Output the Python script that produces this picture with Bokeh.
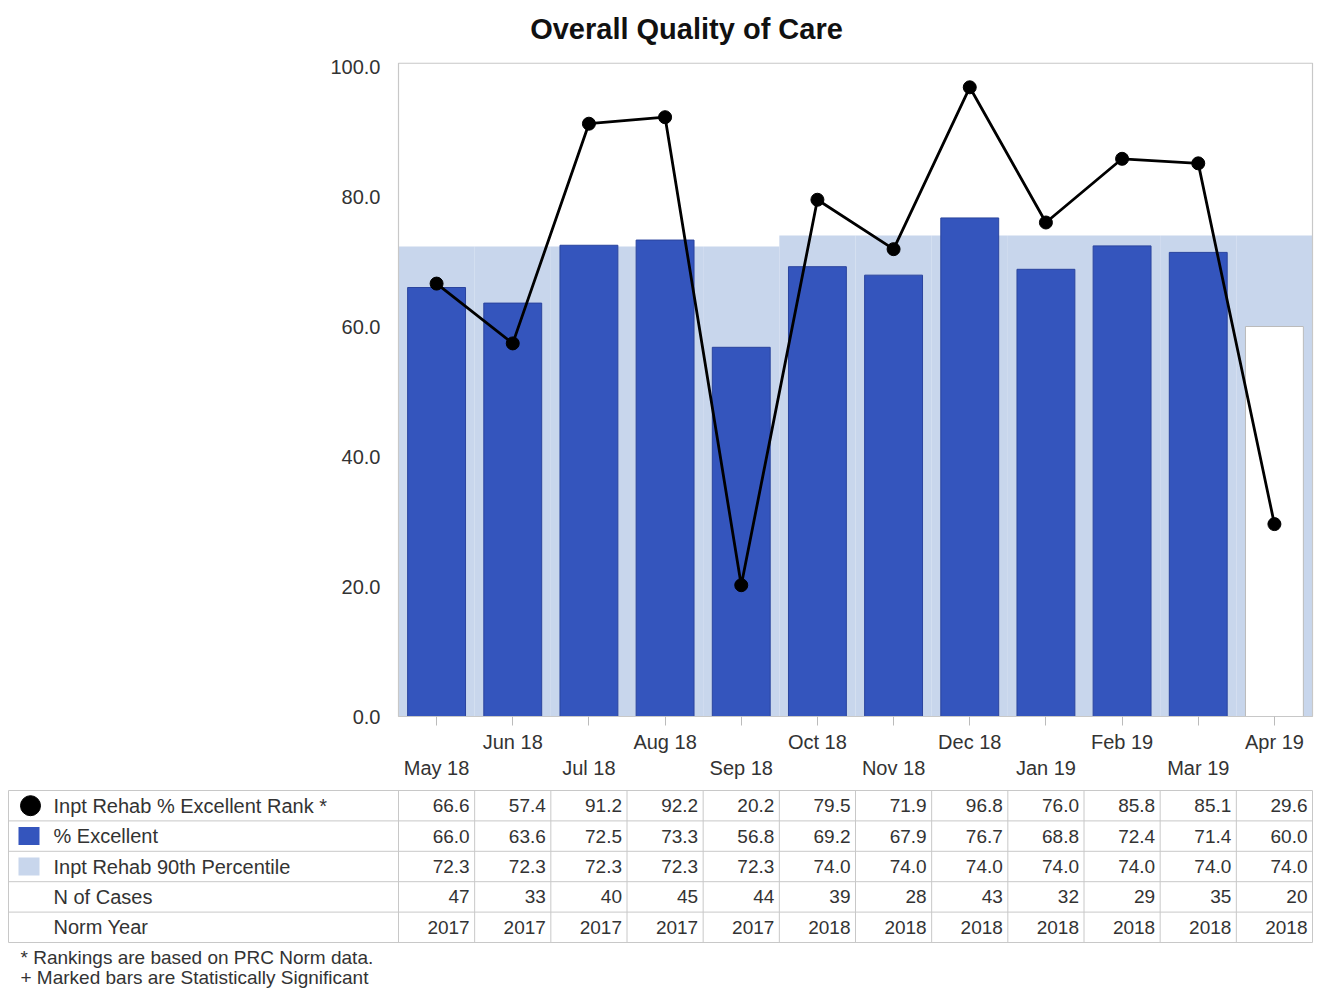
from bokeh.plotting import figure
from bokeh.models import Range1d, FixedTicker, LinearAxis, NumeralTickFormatter
from bokeh.core.properties import value
from bokeh.embed import file_html
from bokeh.resources import INLINE

# ---------------- data ----------------
months = ["May 18", "Jun 18", "Jul 18", "Aug 18", "Sep 18", "Oct 18",
          "Nov 18", "Dec 18", "Jan 19", "Feb 19", "Mar 19", "Apr 19"]
rank = [66.6, 57.4, 91.2, 92.2, 20.2, 79.5, 71.9, 96.8, 76.0, 85.8, 85.1, 29.6]
pct_excellent = [66.0, 63.6, 72.5, 73.3, 56.8, 69.2, 67.9, 76.7, 68.8, 72.4, 71.4, 60.0]
p90 = [72.3, 72.3, 72.3, 72.3, 72.3, 74.0, 74.0, 74.0, 74.0, 74.0, 74.0, 74.0]
n_cases = [47, 33, 40, 45, 44, 39, 28, 43, 32, 29, 35, 20]
norm_year = [2017, 2017, 2017, 2017, 2017, 2018, 2018, 2018, 2018, 2018, 2018, 2018]
row_labels = ["Inpt Rehab % Excellent Rank *", "% Excellent",
              "Inpt Rehab 90th Percentile", "N of Cases", "Norm Year"]
footnotes = ["* Rankings are based on PRC Norm data.",
             "+ Marked bars are Statistically Significant"]
title_text = "Overall Quality of Care"
y_ticks = [0, 20, 40, 60, 80, 100]
y_max = 100.5

# ---------------- style / layout ----------------
FONT = "Liberation Sans"
TXT = "#333333"
GRID = "#c8c8c8"
BAND = "#c8d6ec"
BAR = "#3455bd"
BAR_EDGE = "#2a449e"

idx = list(range(len(months)))
bar_fill = [BAR] * (len(months) - 1) + ["white"]
bar_line = [BAR_EDGE] * (len(months) - 1) + ["#bbbbbb"]

W, H = 1320, 990
FRAME_L, FRAME_R = 398, 1312        # chart area, page px
Y0_PX, UNIT_PX = 716, 6.5           # page y of value 0, px per value unit
ppu = (FRAME_R - FRAME_L) / len(months)


def px2x(px):
    # page x pixel -> column units (column i centred at i)
    return -0.5 + (px - FRAME_L) / ppu


p = figure(width=W, height=H,
           x_range=Range1d(px2x(0), px2x(W)),
           y_range=Range1d((Y0_PX - H) / UNIT_PX, Y0_PX / UNIT_PX),
           output_backend="svg", toolbar_location=None, min_border=0,
           x_axis_location=None, y_axis_location=None)
p.extra_y_ranges = {"px": Range1d(start=H, end=0)}
p.grid.visible = False
p.outline_line_color = None

# ---------------- chart ----------------
p.vbar(x=idx, top=p90, bottom=0, width=1.0, fill_color=BAND, line_color=None)
p.vbar(x=idx, top=pct_excellent, bottom=0, width=0.76, fill_color=bar_fill,
       line_color=bar_line, line_width=1)
p.quad(left=[-0.5], right=[len(months) - 0.5], bottom=[0], top=[y_max],
       fill_color=None, line_color=GRID, line_width=1.2)
p.line(idx, rank, line_color="black", line_width=2.8)
p.scatter(idx, rank, size=13, fill_color="black", line_color="black")

yax = LinearAxis(fixed_location=-0.5, ticker=FixedTicker(ticks=y_ticks),
                 formatter=NumeralTickFormatter(format="0.0"),
                 major_tick_out=0, major_tick_in=0, minor_tick_line_color=None,
                 axis_line_color=None, major_label_standoff=18,
                 major_label_text_font=FONT, major_label_text_font_size="20px",
                 major_label_text_color=TXT)
p.add_layout(yax, "left")

xax1 = LinearAxis(fixed_location=0, ticker=FixedTicker(ticks=idx),
                  major_label_overrides={i: (m if i % 2 == 1 else "") for i, m in enumerate(months)},
                  major_tick_out=9, major_tick_in=0, major_tick_line_color="#bbbbbb",
                  minor_tick_line_color=None, axis_line_color=None,
                  major_label_standoff=5, major_label_text_font=FONT,
                  major_label_text_font_size="20px", major_label_text_color=TXT)
p.add_layout(xax1, "below")

xax2 = LinearAxis(fixed_location=0, ticker=FixedTicker(ticks=idx),
                  major_label_overrides={i: (m if i % 2 == 0 else "") for i, m in enumerate(months)},
                  major_tick_out=0, major_tick_in=0, major_tick_line_color=None,
                  minor_tick_line_color=None, axis_line_color=None,
                  major_label_standoff=40, major_label_text_font=FONT,
                  major_label_text_font_size="20px", major_label_text_color=TXT)
p.add_layout(xax2, "below")

# title
p.text(x=[px2x(686)], y=[28], text=[title_text], y_range_name="px",
       text_font=value(FONT), text_font_size="29px", text_font_style="bold",
       text_color="#111111", text_align="center", text_baseline="middle")

# ---------------- table ----------------
ROW_TOP = 790
ROW_H = 30.4
n_rows = len(row_labels)
edges_y = [ROW_TOP + k * ROW_H for k in range(n_rows + 1)]
xl, xr = px2x(8), len(months) - 0.5
p.segment(x0=[xl] * len(edges_y), y0=edges_y, x1=[xr] * len(edges_y), y1=edges_y,
          line_color=GRID, line_width=1, y_range_name="px")
vx = [xl] + [i - 0.5 for i in range(len(months) + 1)]
p.segment(x0=vx, y0=[edges_y[0]] * len(vx), x1=vx, y1=[edges_y[-1]] * len(vx),
          line_color=GRID, line_width=1, y_range_name="px")

centers = [ROW_TOP + (k + 0.5) * ROW_H for k in range(n_rows)]
p.text(x=[px2x(53)] * n_rows, y=centers, text=row_labels, y_range_name="px",
       text_font=value(FONT), text_font_size="20px", text_color=TXT,
       text_baseline="middle", text_align="left")

rows_vals = [
    [f"{v:.1f}" for v in rank],
    [f"{v:.1f}" for v in pct_excellent],
    [f"{v:.1f}" for v in p90],
    [str(v) for v in n_cases],
    [str(v) for v in norm_year],
]
for k, vals in enumerate(rows_vals):
    p.text(x=[i + 0.5 for i in idx], y=[centers[k]] * len(idx), text=vals,
           y_range_name="px", x_offset=-5, text_font=value(FONT),
           text_font_size="19px", text_color=TXT, text_baseline="middle",
           text_align="right")

# legend keys
p.scatter(x=[px2x(30)], y=[centers[0]], size=20, fill_color="black",
          line_color="black", y_range_name="px")
p.rect(x=[px2x(28.5)], y=[centers[1]], width=21 / ppu, height=18,
       fill_color=BAR, line_color=None, y_range_name="px")
p.rect(x=[px2x(28.5)], y=[centers[2]], width=21 / ppu, height=18,
       fill_color=BAND, line_color=None, y_range_name="px")

# footnotes
p.text(x=[px2x(20)] * 2, y=[957, 977], text=footnotes, y_range_name="px",
       text_font=value(FONT), text_font_size="19px", text_color=TXT,
       text_baseline="middle", text_align="left")

open("out.html", "w").write(file_html(p, INLINE))
